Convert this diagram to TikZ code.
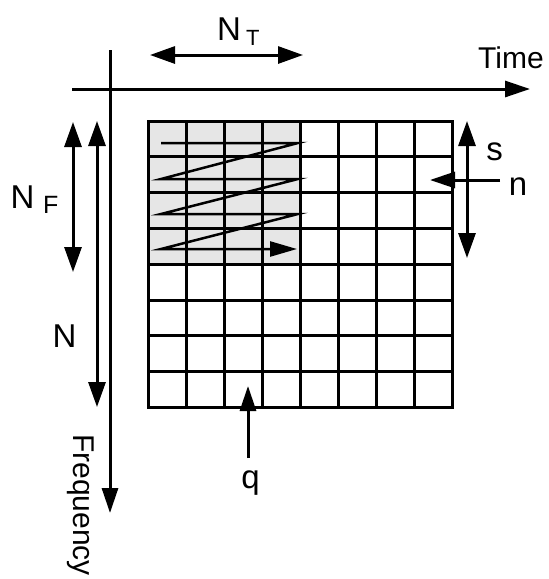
\documentclass[tikz,border=0pt]{standalone}
\usepackage{fontspec}
\setmainfont{Liberation Sans}
\usetikzlibrary{arrows.meta}
\definecolor{gr-cell}{HTML}{E6E6E6}

\begin{document}
\begin{tikzpicture}[
  x=1pt,y=-1pt,
  lbl/.style={inner sep=0pt,font=\fontsize{33}{36}\selectfont},
  sub/.style={font=\fontsize{23}{24}\selectfont},
  cell/.style={line width=3pt,line cap=rect},
  ar/.style={line width=3pt,-{Triangle[length=25pt,width=16pt]}},
  dbl/.style={line width=3pt,{Triangle[length=25pt,width=17pt]}-{Triangle[length=25pt,width=17pt]}},
  zz/.style={line width=2.5pt,-{Triangle[length=27pt,width=15pt]}}
]
\useasboundingbox (0,0) rectangle (549,579);

% time-frequency grid, shaded block of N_F x N_T cells
\fill[gr-cell] (148,121) rectangle (300,264.2);
\foreach \i in {0,...,8} {
  \draw[cell] (148+38*\i,121) -- (148+38*\i,407.4);
  \draw[cell] (148,121+35.8*\i) -- (452,121+35.8*\i);
}

% read-out order inside the block
\draw[zz] (161,143) -- (298,143) -- (161,179) -- (298,179)
       -- (161,214) -- (298,214) -- (161,249) -- (297,249);

% axes
\coordinate (t0) at (72,89);
\coordinate (t1) at (530,89);
\coordinate (f0) at (110,50);
\coordinate (f1) at (110,513);
\draw[ar] (t0) -- (t1);
\draw[ar] (f0) -- (f1);
\node[lbl,font=\fontsize{30}{32}\selectfont,anchor=base] (time) at (511,68) {Time};
\node[lbl,font=\fontsize{30}{32}\selectfont,rotate=-90,anchor=base west] (freq) at (73,434) {Frequency};

% block sizes
\coordinate (nt0) at (150,55);
\coordinate (nt1) at (303,55);
\draw[dbl] (nt0) -- (nt1);
\node[lbl,anchor=base west] (nt) at (217,40)
     {N\hspace{5pt}\raisebox{-5pt}{\fontsize{22}{24}\selectfont T}};

\coordinate (nf0) at (73,122);
\coordinate (nf1) at (73,272);
\draw[dbl] (nf0) -- (nf1);
\node[lbl,anchor=base west] (nf) at (10.5,208)
     {N\hspace{8.5pt}\raisebox{-5pt}{\fontsize{25}{26}\selectfont F}};

\coordinate (n0) at (97,121);
\coordinate (n1) at (97,407);
\draw[dbl] (n0) -- (n1);
\node[lbl,anchor=base west] (nall) at (52.5,347) {N};

% s, n, q markers
\coordinate (s0) at (467,121);
\coordinate (s1) at (467,258);
\draw[dbl] (s0) -- (s1);
\node[lbl,anchor=base] (s) at (494.5,160) {s};

\coordinate (nr0) at (500,180);
\coordinate (nr1) at (430,180);
\draw[ar] (nr0) -- (nr1);
\node[lbl,anchor=base] (n) at (518,195) {n};

\coordinate (q0) at (248,458);
\coordinate (q1) at (248,386);
\draw[ar] (q0) -- (q1);
\node[lbl,anchor=base] (q) at (250.5,488) {q};

\end{tikzpicture}
\end{document}
